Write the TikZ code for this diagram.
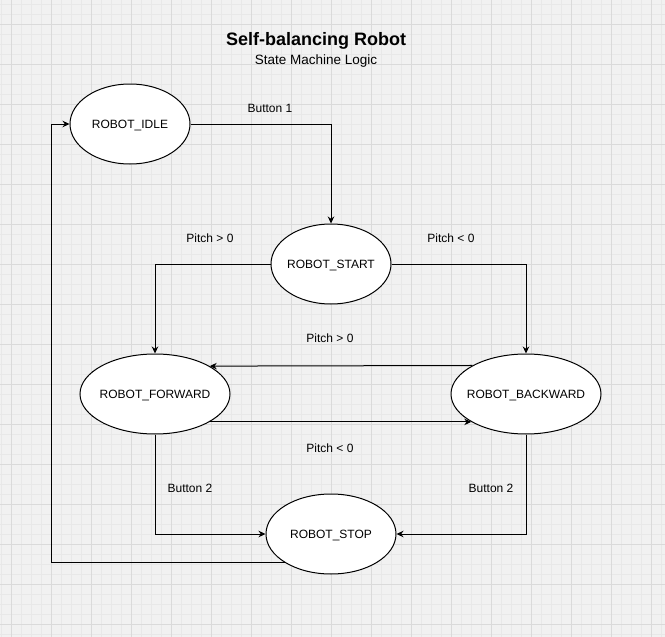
\documentclass[tikz,border=0pt]{standalone}
\usepackage{fontspec}
\setmainfont{Liberation Sans}
\usetikzlibrary{arrows.meta,shapes.geometric}

\definecolor{gridbg}{RGB}{241,241,241}
\definecolor{gridminor}{RGB}{232,232,232}
\definecolor{gridmajor}{RGB}{218,218,218}

\tikzset{
  flow/.style={draw, line width=1pt, -{Stealth[length=7pt,width=6.5pt]}},
  lbl/.style={font=\fontsize{12}{14}\selectfont}
}

\begin{document}
\begin{tikzpicture}[x=1pt,y=-1pt]

      \useasboundingbox (0,0) rectangle (665,637);

      % grid
      \fill[gridbg] (0,0) rectangle (665,637);
      \foreach \x in {1.7,11.7,...,662} \draw[gridminor, line width=.8pt] (\x,0) -- (\x,637);
      \foreach \y in {4.3,14.3,...,637} \draw[gridminor, line width=.8pt] (0,\y) -- (665,\y);
      \foreach \x in {11.7,51.7,...,662} \draw[gridmajor, line width=.8pt] (\x,0) -- (\x,637);
      \foreach \y in {24.3,64.3,...,637} \draw[gridmajor, line width=.8pt] (0,\y) -- (665,\y);

      \node[anchor=base, font=\bfseries\fontsize{18}{22}\selectfont] (title) at (316,45.7) {Self-balancing Robot};
      \node[anchor=base, font=\fontsize{13.5}{16}\selectfont] (subtitle) at (316,64) {State Machine Logic};

      \begin{scope}[every node/.style={ellipse, draw, fill=white, line width=1pt,
          minimum height=80pt, inner xsep=-15pt, inner ysep=0pt, text depth=0pt,
          font=\fontsize{12}{14}\selectfont}]
        \node[minimum width=120pt] (idle)  at (130,124) {ROBOT\_IDLE};
        \node[minimum width=120pt] (start) at (331,264) {ROBOT\_START};
        \node[minimum width=150pt] (fwd)   at (155,394) {ROBOT\_FORWARD};
        \node[minimum width=150pt] (bwd)   at (526,394) {ROBOT\_BACKWARD};
        \node[minimum width=130pt] (stop)  at (331,534) {ROBOT\_STOP};
      \end{scope}

      \coordinate (ret) at (51,124);

      \draw[flow] (idle.east) -| (start.north);
      \draw[flow] (start.west) -| (fwd.north);
      \draw[flow] (start.east) -| (bwd.north);
      \draw[flow] (bwd.152.4) -- (fwd.27.6);
      \draw[flow] (fwd.-27.6) -- (bwd.207.6);
      \draw[flow] (fwd.south) |- (stop.west);
      \draw[flow] (bwd.south) |- (stop.east);
      \draw[flow] (stop.212.4) -| (ret) |- (idle.west);

      \begin{scope}[every node/.style={lbl}]
        \node (lb1)   at (270,108) {Button 1};
        \node (lpfs)  at (210,238) {Pitch > 0};
        \node (lpbs)  at (451,238) {Pitch < 0};
        \node (lpf)   at (330,338) {Pitch > 0};
        \node (lpb)   at (330,448) {Pitch < 0};
        \node (lb2f)  at (190,488) {Button 2};
        \node (lb2b)  at (491,488) {Button 2};
      \end{scope}

    \end{tikzpicture}
\end{document}
